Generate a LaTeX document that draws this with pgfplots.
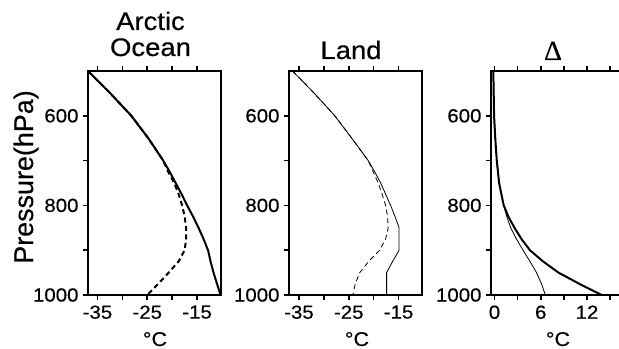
\documentclass[border=0pt]{standalone}
\usepackage{pgfplots}
\pgfplotsset{compat=1.18}
\usepackage{fontspec}
\setmainfont{Liberation Sans}
\newfontfamily\widesans[FakeStretch=1.08, FakeBold=0.4]{Liberation Sans}
\newfontfamily\boldish[FakeBold=0.4]{Liberation Sans}
\newfontfamily\serifdelta[FakeBold=0.4]{Liberation Serif}

\pgfplotstableread{
p    ocean  oceanx
500  -36.9  -36.9
550  -32.4  -32.4
600  -28.2  -28.2
650  -24.8  -24.8
700  -21.8  -21.8
725  -20.5  -20.8
750  -19.3  -19.6
775  -18.1  -18.7
800  -17.0  -18.0
825  -15.8  -17.5
850  -14.7  -17.2
875  -13.7  -17.2
900  -12.8  -17.5
925  -12.3  -18.7
950  -11.7  -20.7
975  -11.0  -22.8
1000 -10.3  -25.0
}\oceantab

\pgfplotstableread{
p    land   landx
500  -36.3  -36.3
550  -31.9  -31.9
600  -27.8  -27.8
650  -24.4  -24.4
700  -21.1  -21.1
725  -19.8  -20.1
750  -18.6  -19.1
775  -17.6  -18.3
800  -16.6  -17.6
825  -15.7  -17.2
850  -14.9  -17.1
875  -14.9  -17.6
900  -14.9  -18.8
925  -16.2  -21.0
950  -17.4  -22.8
975  -17.4  -23.7
1000 -17.4  -24.2
}\landtab

\pgfplotstableread{
p    docean dland
500  -0.15  -0.15
550  -0.10  -0.10
600  -0.05  -0.05
650   0.10   0.10
700   0.30   0.30
750   0.60   0.60
800   1.20   1.20
825   1.80   1.60
850   2.60   2.10
875   3.50   2.85
900   4.60   3.70
925   6.30   4.60
950   8.30   5.45
975  11.00   6.10
1000 13.90   6.60
}\deltatab

\pgfplotsset{
  myax/.style={
    scale only axis, width=133bp, height=224bp,
    anchor=south west,
    ymin=500, ymax=1000, y dir=reverse,
    axis line style={line width=1.8bp},
    every tick/.style={line width=1.6bp, black},
    major tick length=5bp,
    tick align=outside,
    xtick pos=both, ytick pos=left,
    xticklabel pos=lower,
    ytick={600,700,800,900,1000},
    yticklabels={600,,800,,1000},
    ticklabel style={font=\widesans\fontsize{19}{20}\selectfont},
    xticklabel style={yshift=-2bp},
    yticklabel style={xshift=-1bp},
    clip=false,
  },
  thickline/.style={black, line width=2bp, no marks},
  thinline/.style={black, line width=0.8bp, no marks},
}

\begin{document}
\begin{tikzpicture}
\path[use as bounding box] (0bp,0bp) rectangle (619bp,349bp);

\begin{axis}[myax, at={(88bp,54bp)},
  xmin=-36.9, xmax=-10.2,
  xtick={-35,-30,-25,-20,-15}, xticklabels={-35,,-25,,-15}]
  \addplot[thickline, dash pattern=on 5bp off 3.5bp] table[x=oceanx, y=p] {\oceantab};
  \addplot[thickline] table[x=ocean, y=p] {\oceantab};
\end{axis}

\begin{axis}[myax, at={(289bp,54bp)},
  xmin=-37, xmax=-10.3,
  xtick={-35,-30,-25,-20,-15}, xticklabels={-35,,-25,,-15}]
  \addplot[thinline, dash pattern=on 5bp off 3.5bp] table[x=landx, y=p] {\landtab};
  \addplot[thinline] table[x=land, y=p] {\landtab};
\end{axis}

\begin{axis}[myax, at={(491bp,54bp)},
  xmin=-0.45, xmax=16.8,
  xtick={0,3,6,9,12,15}, xticklabels={0,,6,,12,}]
  \addplot[thinline] table[x=dland, y=p] {\deltatab};
  \addplot[thickline] table[x=docean, y=p] {\deltatab};
\end{axis}

\node[rotate=90, anchor=base, font=\boldish\fontsize{27}{28}\selectfont] at (33bp,172bp) {Pressure(hPa)};
\node[anchor=base, font=\widesans\fontsize{25.5}{26}\selectfont] at (150.5bp,319bp) {Arctic};
\node[anchor=base, font=\widesans\fontsize{25.5}{26}\selectfont] at (150.5bp,293bp) {Ocean};
\node[anchor=base, font=\widesans\fontsize{25.5}{26}\selectfont] at (351bp,290bp) {Land};
\node[anchor=base, font=\fontsize{28}{29}\serifdelta] at (553bp,289bp) {Δ};
\node[anchor=base, font=\widesans\fontsize{20}{21}\selectfont] at (155bp,3bp) {°C};
\node[anchor=base, font=\widesans\fontsize{20}{21}\selectfont] at (357bp,3bp) {°C};
\node[anchor=base, font=\widesans\fontsize{20}{21}\selectfont] at (558bp,3bp) {°C};
\end{tikzpicture}
\end{document}
